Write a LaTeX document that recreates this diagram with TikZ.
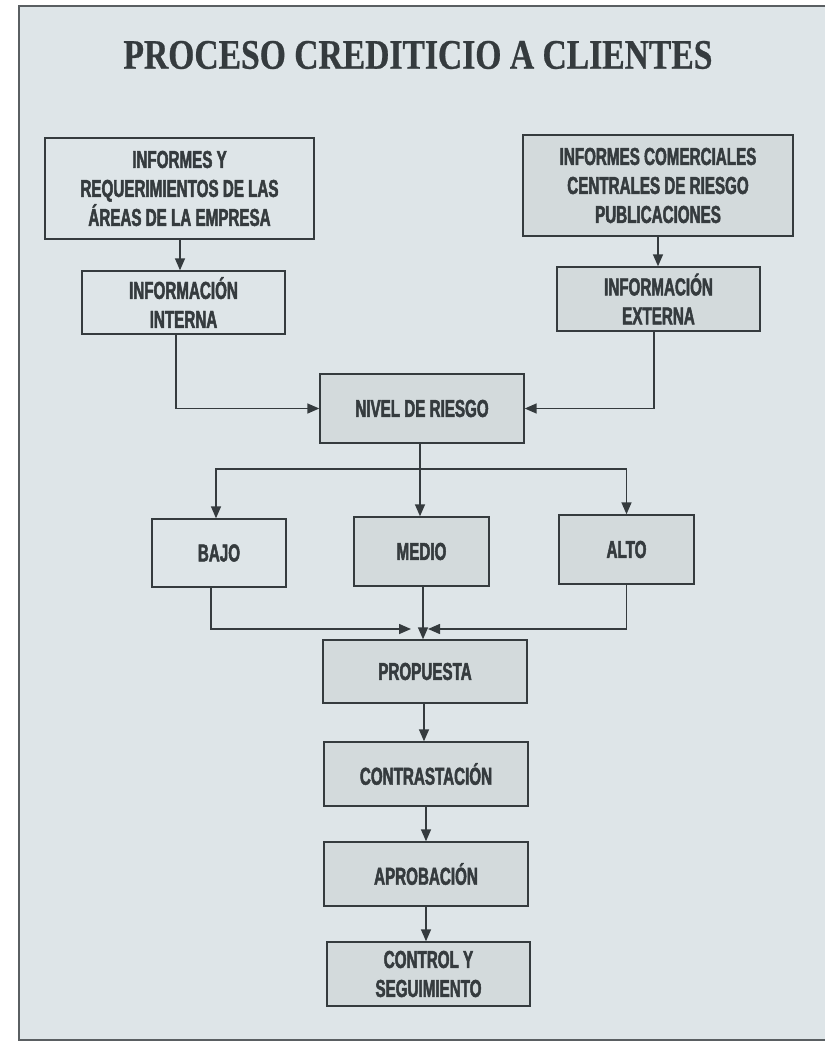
\documentclass[tikz,border=0pt]{standalone}
\usepackage{fontspec}
\usetikzlibrary{arrows.meta}
\newfontfamily\boxfont[FakeStretch=0.62,FakeBold=2]{Liberation Sans}
\newfontfamily\titlefont[FakeStretch=0.8,FakeBold=0.6]{Liberation Serif}
\definecolor{pagebg}{HTML}{DEE5E8}
\definecolor{boxfill}{HTML}{D3DADC}
\definecolor{inkc}{HTML}{353B3E}
\definecolor{framec}{HTML}{5A5F62}
\tikzset{
  box/.style={draw=inkc, line width=1.4pt, rectangle, inner sep=0pt, align=center,
    text=inkc, font=\boxfont\bfseries\fontsize{24.5}{29}\selectfont},
  plainbox/.style={box},
  greybox/.style={box, fill=boxfill},
  arr/.style={draw=inkc, line width=1.5pt, -{Triangle[length=12pt,width=10pt]}},
  ln/.style={draw=inkc, line width=1.5pt}
}
\begin{document}
\begin{tikzpicture}[x=1pt,y=-1pt]
\useasboundingbox (0,0) rectangle (825,1043);
\fill[white] (0,0) rectangle (825,1043);
\fill[pagebg] (19,6) rectangle (825,1040);
\draw[framec, line width=2.5pt] (825,6) -- (19,6) -- (19,1040) -- (825,1040);

\node[text=inkc, font=\titlefont\bfseries\fontsize{42}{46}\selectfont] (title) at (418,55) {PROCESO CREDITICIO A CLIENTES};

\node[plainbox, minimum width=269pt, minimum height=101pt] (inf1) at (179.5,188.5) {INFORMES Y\\REQUERIMIENTOS DE LAS\\ÁREAS DE LA EMPRESA};
\node[plainbox, minimum width=203pt, minimum height=63pt] (intern) at (183.5,302.5) {INFORMACIÓN\\INTERNA};
\node[greybox, minimum width=270pt, minimum height=101pt] (inf2) at (658,185.5) {INFORMES COMERCIALES\\CENTRALES DE RIESGO\\PUBLICACIONES};
\node[greybox, minimum width=203pt, minimum height=64pt] (extern) at (658.5,299) {INFORMACIÓN\\EXTERNA};
\node[greybox, minimum width=204pt, minimum height=69pt] (nivel) at (422,408.5) {NIVEL DE RIESGO};
\node[plainbox, minimum width=134pt, minimum height=68pt] (bajo) at (219,553) {BAJO};
\node[greybox, minimum width=135pt, minimum height=69pt] (medio) at (421.5,551.5) {MEDIO};
\node[greybox, minimum width=135pt, minimum height=69pt] (alto) at (626.5,549.5) {ALTO};
\node[greybox, minimum width=204pt, minimum height=63pt] (prop) at (425,671.5) {PROPUESTA};
\node[greybox, minimum width=204pt, minimum height=64pt] (contr) at (426,774) {CONTRASTACIÓN};
\node[greybox, minimum width=204pt, minimum height=64pt] (aprob) at (426,874) {APROBACIÓN};
\node[greybox, minimum width=203pt, minimum height=64pt] (control) at (428.5,974) {CONTROL Y\\SEGUIMIENTO};

\coordinate (br) at (420,469);
\coordinate (jl) at (411,629);
\coordinate (jr) at (428,629);

\draw[arr] ([xshift=0.5pt]inf1.south) -- ([xshift=0.5pt]inf1.south |- intern.north);
\draw[arr] (inf2.south) -- (inf2.south |- extern.north);
\draw[arr] ([xshift=-7.5pt]intern.south) |- (nivel.west);
\draw[arr] ([xshift=-4.5pt]extern.south) |- (nivel.east);
\draw[arr] ([xshift=-2pt]nivel.south) -- ([xshift=-2pt]nivel.south |- medio.north);
\draw[arr] (br) -| ([xshift=-3pt]bajo.north);
\draw[arr] (br) -| (alto.north);
\draw[arr] ([xshift=-8pt]bajo.south) |- (jl);
\draw[arr] (alto.south) |- (jr);
\draw[arr] ([xshift=1.5pt]medio.south) -- ([xshift=1.5pt]medio.south |- prop.north);
\draw[arr] ([xshift=-1pt]prop.south) -- ([xshift=-1pt]prop.south |- contr.north);
\draw[arr] (contr.south) -- (contr.south |- aprob.north);
\draw[arr] (aprob.south) -- (aprob.south |- control.north);
\end{tikzpicture}
\end{document}
